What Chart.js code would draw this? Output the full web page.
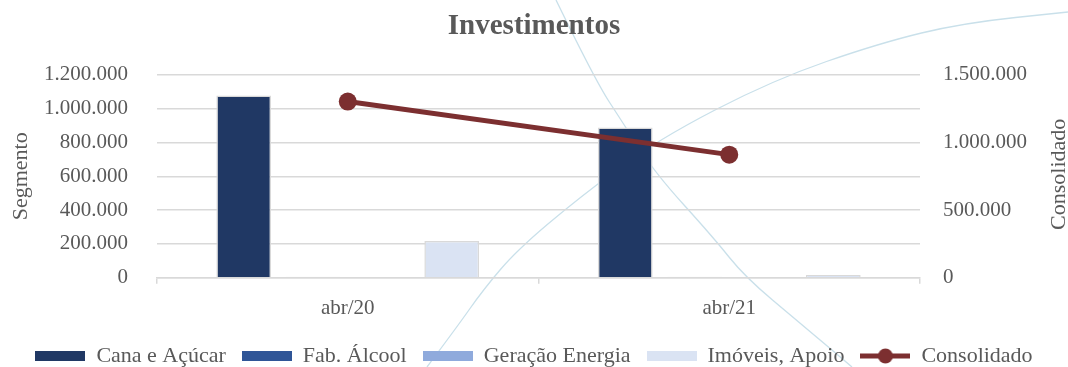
<!DOCTYPE html>
<html>
<head>
<meta charset="utf-8">
<script src="https://cdn.jsdelivr.net/npm/chart.js@4.4.0/dist/chart.umd.min.js"></script>
<style>
  html, body { margin: 0; padding: 0; background: #ffffff; }
  #wrap { width: 1068px; height: 367px; position: relative; }
</style>
</head>
<body>
<div id="wrap"><canvas id="chart" width="1068" height="367"></canvas></div>
<script>
// Investimentos por segmento (eixo esquerdo) e consolidado (eixo direito)
const categories = ['abr/20', 'abr/21'];
const canaAcucar = [1078000, 888000];
const fabAlcool = [6000, 6000];
const geracaoEnergia = [0, 0];
const imoveisApoio = [218000, 16000];
const consolidado = [1302000, 910000];

const segmentoTicks = [0, 200000, 400000, 600000, 800000, 1000000, 1200000];
const consolidadoTicks = [0, 500000, 1000000, 1500000];

const FONT = "'Liberation Serif', 'Times New Roman', serif";
const TEXT = '#595959';
const GRID = '#d9d9d9';
const COLORS = {
  cana: '#203864',
  fab: '#2f5597',
  ger: '#8faadc',
  imo: '#dae3f3',
  cons: '#7c2f30'
};

const fmt = v => String(Math.round(v)).replace(/\B(?=(\d{3})+(?!\d))/g, '.');

// Legend swatches: a filled box for the bars, a line with a dot for the line series
function boxSwatch(color) {
  const c = document.createElement('canvas');
  c.width = 50; c.height = 16;
  const g = c.getContext('2d');
  g.fillStyle = color;
  g.fillRect(0, 3, 50, 10);
  return c;
}
function lineSwatch(color) {
  const c = document.createElement('canvas');
  c.width = 50; c.height = 16;
  const g = c.getContext('2d');
  g.strokeStyle = color;
  g.lineWidth = 5;
  g.beginPath(); g.moveTo(0, 8); g.lineTo(50, 8); g.stroke();
  g.fillStyle = color;
  g.beginPath(); g.arc(25, 8, 7.5, 0, Math.PI * 2); g.fill();
  return c;
}

// Faint decorative arcs behind the plot
const arcA = [[556,0],[595,80],[623,123],[655,173],[713,237],[745,277],[800,323],[852,367]];
const arcB = [[427,367],[457,327],[483,290],[517,250],[580,197],[657,140],[773,80],[880,43],[963,23],[1068,12]];
function smoothPath(ctx, pts) {
  ctx.beginPath();
  ctx.moveTo(pts[0][0], pts[0][1]);
  for (let i = 1; i < pts.length - 1; i++) {
    const mx = (pts[i][0] + pts[i + 1][0]) / 2;
    const my = (pts[i][1] + pts[i + 1][1]) / 2;
    ctx.quadraticCurveTo(pts[i][0], pts[i][1], mx, my);
  }
  const last = pts[pts.length - 1];
  ctx.lineTo(last[0], last[1]);
  ctx.stroke();
}

const decor = {
  id: 'decor',
  beforeDraw(chart) {
    const ctx = chart.ctx;
    ctx.save();
    ctx.fillStyle = '#ffffff';
    ctx.fillRect(0, 0, chart.width, chart.height);
    ctx.strokeStyle = '#c9e0ea';
    ctx.lineWidth = 1.3;
    smoothPath(ctx, arcA);
    smoothPath(ctx, arcB);
    ctx.restore();
  },
  afterDraw(chart) {
    // right axis title, reading bottom to top
    const ctx = chart.ctx;
    const a = chart.chartArea;
    ctx.save();
    ctx.translate(1059, (a.top + a.bottom) / 2 - 2);
    ctx.rotate(-Math.PI / 2);
    ctx.font = '22px ' + FONT;
    ctx.fillStyle = TEXT;
    ctx.textAlign = 'center';
    ctx.textBaseline = 'middle';
    ctx.fillText('Consolidado', 0, 0);
    ctx.restore();
  }
};

const barBase = { borderColor: GRID, borderWidth: 1.5, yAxisID: 'y', order: 1,
  categoryPercentage: 0.727, barPercentage: 0.79 };

new Chart(document.getElementById('chart'), {
  type: 'bar',
  data: {
    labels: categories,
    datasets: [
      Object.assign({ label: 'Cana e Açúcar', data: canaAcucar, backgroundColor: COLORS.cana }, barBase),
      Object.assign({ label: 'Fab. Álcool', data: fabAlcool, backgroundColor: COLORS.fab }, barBase),
      Object.assign({ label: 'Geração Energia', data: geracaoEnergia, backgroundColor: COLORS.ger }, barBase),
      Object.assign({ label: 'Imóveis, Apoio', data: imoveisApoio, backgroundColor: COLORS.imo }, barBase),
      {
        type: 'line', label: 'Consolidado', data: consolidado, yAxisID: 'y1', order: 0,
        borderColor: COLORS.cons, backgroundColor: COLORS.cons, borderWidth: 5,
        pointRadius: 9, pointHoverRadius: 9, pointBackgroundColor: COLORS.cons,
        pointBorderWidth: 0, tension: 0, fill: false
      }
    ]
  },
  options: {
    responsive: false,
    animation: false,
    events: [],
    layout: { padding: { top: 0, bottom: -10, left: 0, right: 0 } },
    plugins: {
      title: {
        display: true, text: 'Investimentos', color: TEXT,
        font: { family: FONT, size: 29, weight: 'bold' },
        padding: { top: 9, bottom: 31 }
      },
      legend: {
        position: 'bottom',
        labels: {
          color: TEXT,
          font: { family: FONT, size: 22 },
          usePointStyle: true,
          pointStyleWidth: 50,
          padding: 16,
          generateLabels(chart) {
            const swatch = [boxSwatch(COLORS.cana), boxSwatch(COLORS.fab), boxSwatch(COLORS.ger),
                            boxSwatch(COLORS.imo), lineSwatch(COLORS.cons)];
            return chart.data.datasets.map((ds, i) => ({
              text: ds.label, datasetIndex: i, pointStyle: swatch[i],
              fillStyle: 'transparent', strokeStyle: 'transparent', lineWidth: 0,
              hidden: false, fontColor: TEXT
            }));
          }
        }
      },
      tooltip: { enabled: false }
    },
    scales: {
      x: {
        offset: true,
        afterFit(s) { s.height = s.height - 4; },
        border: { display: true, color: GRID, width: 1.5 },
        grid: { display: true, drawOnChartArea: false, drawTicks: true, tickLength: 6, color: GRID, lineWidth: 1.5, offset: true },
        ticks: { color: TEXT, font: { family: FONT, size: 21 }, padding: 12 }
      },
      y: {
        position: 'left', min: 0, max: 1200000,
        afterFit(s) { s.width = 157; },
        afterBuildTicks(s) { s.ticks = segmentoTicks.map(v => ({ value: v })); },
        border: { display: false },
        grid: { color: GRID, lineWidth: 1.5, drawTicks: false },
        ticks: { color: TEXT, font: { family: FONT, size: 21 }, padding: 29, callback: v => fmt(v) },
        title: { display: true, text: 'Segmento', color: TEXT, font: { family: FONT, size: 22 }, padding: { top: 8, bottom: 0 } }
      },
      y1: {
        position: 'right', min: 0, max: 1500000,
        afterFit(s) { s.width = 148; },
        afterBuildTicks(s) { s.ticks = consolidadoTicks.map(v => ({ value: v })); },
        border: { display: false },
        grid: { drawOnChartArea: false, drawTicks: false },
        ticks: { color: TEXT, font: { family: FONT, size: 21 }, padding: 23, callback: v => fmt(v) }
      }
    }
  },
  plugins: [decor]
});
</script>
</body>
</html>
